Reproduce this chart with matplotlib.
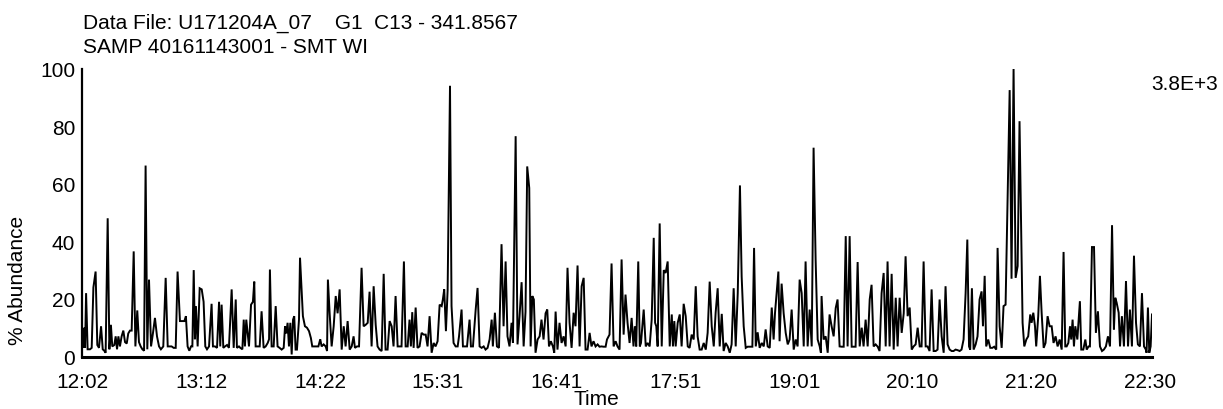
import numpy as np
import matplotlib
matplotlib.use("Agg")
import matplotlib.pyplot as plt

# ---------------- data (retention time in minutes since midnight, % abundance) -------------
t_a = [722.2, 722.8, 723.4, 723.8, 724.4, 725.3, 726.7, 727.7, 728.7, 730.0, 731.0, 732.0, 733.2, 734.2,
       735.1, 735.9, 737.1, 738.1, 739.0, 739.8, 741.0, 741.8, 742.6, 743.4, 744.3, 745.3, 746.3, 747.3,
       748.3, 749.2, 750.2, 751.2, 752.4, 753.4, 754.5, 755.5, 756.5, 757.5, 758.5, 759.4, 760.4, 761.4,
       762.6, 763.7, 764.9, 766.1, 767.3, 768.4, 769.8, 771.2, 772.4, 773.5, 774.7, 775.9, 777.1, 778.2,
       779.6, 781.0, 782.2, 783.1, 784.1, 785.1, 786.1, 786.9, 787.7, 788.4, 789.0, 790.0, 791.2, 792.4,
       793.5, 794.5, 795.5, 796.7, 798.2, 799.0, 800.2, 801.4, 802.6]
v_a = [8, 3, 10, 3, 22, 2.5, 2.5, 3, 24, 29.5, 4, 3, 10.5, 2.5,
       2, 1.3, 48, 2.5, 11, 3.5, 4, 7, 2.5, 7, 3.5, 7, 9, 5,
       4.5, 8, 9, 9, 36.5, 3.5, 16, 5, 3.5, 2.5, 2, 66.3, 2.5, 26.7,
       3.5, 8, 13.4, 7, 3.5, 2.5, 3.5, 27.3, 3.5, 3.5, 3.5, 3, 3, 29.5,
       12.3, 12.3, 12.3, 14, 3.5, 2, 3.5, 3.5, 30, 6, 17.5, 3.5, 23.7, 23.3,
       19, 3.5, 2.5, 3.5, 18.3, 3.5, 3.5, 3, 19]

t_b = [803.3, 804.1, 805.1, 806.1, 807.3, 808.4, 810.0, 811.2, 812.4, 813.1, 814.3, 815.1, 816.3, 817.1,
       817.8, 818.6, 819.4, 820.2, 821.4, 822.5, 823.3, 824.1, 825.3, 826.5, 827.6, 828.8, 830.0, 831.2,
       832.0, 832.5, 833.5, 834.7, 835.9, 837.0, 838.2, 839.4, 840.6, 841.4, 842.1, 842.9, 843.7, 844.5,
       845.3, 846.1, 846.8, 847.6, 848.4, 849.6, 850.2, 851.2, 851.9, 853.1, 854.3, 855.5, 856.6, 857.4,
       858.6, 859.8, 861.0, 862.1, 862.9, 864.1, 865.3, 866.1, 866.6, 867.6, 868.8, 870.0, 871.2, 872.3,
       873.5, 874.7, 875.9, 877.0, 878.2, 879.4, 880.6, 881.7, 882.5, 883.7, 884.9]
v_b = [3.5, 18, 3, 3.5, 4, 3, 23.3, 3, 19.8, 3, 3.5, 3, 2.5, 12.8,
       3.5, 12.8, 8, 3.5, 18, 19, 26, 3.5, 3.5, 3.5, 15.7, 3, 3.5, 4.7,
       6, 30.2, 3.5, 3.5, 17.5, 3.5, 3, 2.4, 3, 10.5, 8, 11.7, 3.5, 11.7,
       0.7, 12.8, 14, 2.4, 2.4, 12.8, 34.3, 22, 14, 10.5, 10, 8.8, 6.4, 3.5,
       3.5, 3.5, 3.5, 6, 3.5, 4.2, 3.5, 1.9, 26.7, 15.2, 3.5, 10.5, 21, 15,
       23.3, 2.4, 10.5, 3.5, 12.3, 2.4, 3.5, 7, 3, 3.5, 3.5]

t_c = [886.4, 887.6, 888.8, 890.0, 891.1, 892.3, 893.5, 894.7, 895.8, 897.0, 898.2, 899.4, 900.5, 901.7,
       902.9, 904.1, 905.2, 906.4, 907.6, 908.8, 909.9, 911.3, 912.3, 913.5, 914.6, 915.4, 916.2, 917.0,
       918.2, 919.3, 920.5, 921.7, 922.9, 924.1, 925.2, 926.4, 927.6, 928.8, 929.9, 931.1, 932.3, 933.5,
       934.2, 935.0, 936.0, 937.0, 938.4, 939.3, 940.5, 941.7, 942.9, 943.7, 945.2, 946.0, 947.2, 948.4,
       949.9, 950.7, 951.9, 953.5, 954.6, 955.8, 957.0, 958.2, 959.3, 960.5, 961.7, 962.9, 963.6, 964.8,
       966.0, 967.2]
v_c = [30.8, 10.5, 11, 11.7, 22.5, 3.5, 24.4, 11, 3.5, 2.4, 1.9, 28.7, 2.4, 2.4,
       12.3, 10.5, 3.5, 21, 3.5, 3.5, 3.5, 33, 3.5, 3.5, 12.8, 3.5, 15.4, 3,
       17, 3, 3.5, 8.2, 7.6, 7.6, 3.5, 14, 1.3, 4.7, 3.5, 5.3, 18, 17.5,
       19.8, 23.3, 8.8, 23, 94, 17.5, 4.7, 3.5, 3.5, 7, 16.3, 3.5, 3.5, 3.5,
       12.8, 3.5, 3.5, 16.3, 23.8, 3.5, 3, 3.5, 2.4, 3, 6, 12.8, 3.5, 15.2,
       3.5, 3]

t_d = [968.7, 969.9, 971.1, 972.2, 973.4, 974.6, 975.4, 977.0, 978.1, 979.3, 980.5, 981.7, 982.8, 983.8,
       985.0, 985.8, 986.8, 987.7, 988.7, 989.9, 991.1, 992.2, 993.4, 994.6, 995.6, 996.6, 997.7, 998.9,
       999.7, 1000.5, 1001.6, 1002.8, 1004.0, 1005.2, 1006.4, 1007.5, 1008.7, 1009.9, 1011.1, 1012.2,
       1013.4, 1014.6, 1015.8, 1017.0, 1018.1, 1019.3, 1020.5, 1021.6, 1022.8, 1024.0, 1025.2, 1026.3,
       1027.5, 1028.7, 1029.9, 1030.7, 1032.2, 1033.4, 1034.6, 1035.8, 1036.9, 1038.1, 1039.3, 1040.5,
       1041.6, 1042.8, 1044.0, 1045.2, 1046.3, 1047.1, 1047.9, 1049.1]
v_d = [39, 10.5, 33, 7, 3.5, 11.7, 4.7, 76.5, 4.2, 14, 25.8, 3.5, 15.5, 66,
       58.5, 3.5, 21, 19.8, 1.3, 5.9, 7, 12.8, 5.9, 15, 16.3, 3.5, 5.3, 3.5,
       1.3, 15.6, 2.4, 11.7, 4.7, 7, 3.5, 30.8, 11.7, 3, 15.2, 10.5,
       31.6, 3.5, 24.4, 27.3, 2.4, 2.4, 8.2, 3.5, 5.3, 3.5, 4.2, 3.4,
       3.5, 3.4, 3.4, 5.9, 7.6, 32.3, 3.5, 5.3, 3.5, 2.4, 33.7, 7.6,
       21.5, 11.7, 4.7, 13.4, 3.5, 10.5, 3.5, 33]

t_e = [1050.0, 1050.7, 1052.3, 1053.5, 1054.6, 1055.8, 1057.0, 1058.2, 1059.0, 1059.7, 1060.5, 1061.7,
       1062.9, 1064.1, 1065.2, 1066.4, 1067.6, 1068.8, 1069.5, 1070.3, 1071.1, 1072.3, 1073.5, 1074.6,
       1075.8, 1077.0, 1078.2, 1079.3, 1080.5, 1081.7, 1082.9, 1084.0, 1085.2, 1086.4, 1087.6, 1088.8,
       1089.9, 1091.1, 1092.3, 1093.5, 1094.6, 1095.8, 1097.0, 1098.2, 1099.3, 1100.5, 1101.7, 1102.9,
       1104.0, 1105.2, 1106.4, 1107.6, 1108.9, 1109.9, 1111.1, 1112.3, 1113.4, 1114.6, 1116.2, 1117.2,
       1118.2, 1119.3, 1120.5, 1121.7, 1122.9, 1124.0, 1125.2, 1126.4, 1127.6, 1128.7, 1129.5, 1131.5]
v_e = [3.5, 4.7, 16.3, 3.5, 4.7, 3.5, 12.8, 41.2, 11.7, 10.5, 3.5, 46.2,
       3.5, 30, 29, 33, 3.5, 14.6, 3.5, 12.3, 3.5, 11.7, 14.6, 3.5,
       18.3, 14, 3.5, 3, 7.6, 5.9, 24.4, 7, 2.4, 2.4, 4.7, 2.4,
       8.2, 26, 10.5, 3.5, 15.2, 23.7, 3.5, 14.8, 1.9, 4.7, 3.5, 1.3,
       4.2, 23.7, 3.5, 22, 59.4, 27.8, 10.5, 3, 3.4, 3.4, 3.4, 37.7,
       3.5, 8.4, 3, 4.7, 3.5, 9.4, 3.5, 3, 17, 5.9, 15, 29.5]

t_f = [1132.2, 1133.4, 1134.6, 1135.8, 1137.0, 1138.1, 1139.3, 1140.5, 1141.7, 1142.8, 1144.0, 1145.2,
       1146.4, 1147.5, 1148.7, 1149.9, 1151.1, 1152.2, 1153.4, 1154.6, 1155.8, 1156.5, 1156.9, 1158.1,
       1159.3, 1160.5, 1161.6, 1162.8, 1164.0, 1165.2, 1166.3, 1167.5, 1168.7, 1169.9, 1171.1, 1172.2,
       1173.4, 1174.6, 1175.8, 1176.9, 1178.1, 1179.3, 1180.5, 1181.6, 1182.8, 1184.0, 1185.2, 1186.3,
       1187.5, 1188.7, 1189.9, 1191.0, 1192.2, 1193.4, 1194.6, 1195.7, 1196.9, 1198.1, 1199.3, 1200.5,
       1201.6, 1202.8, 1204.0, 1205.2, 1206.3, 1207.5, 1208.7, 1209.9, 1211.0, 1212.2, 1213.4, 1214.6]
v_f = [5.3, 25.3, 15, 8.2, 4.2, 5.9, 16.3, 2.4, 5.9, 3.5, 26.7, 22,
       3.5, 33, 3.5, 16.3, 3.5, 72.5, 33.6, 5.9, 3.5, 1.3, 21, 5.9,
       7, 1.3, 14.6, 10.5, 7, 16.8, 19.8, 3.5, 3.4, 3.4, 41.8, 3.5,
       41.8, 3.4, 3.4, 3.4, 32.8, 3.5, 10, 3.5, 12.8, 3.5, 19.8, 24.9,
       3.5, 4.2, 3.4, 1.9, 22, 29, 3.5, 33, 3.5, 28.7, 2.4, 20.4,
       3.5, 20.4, 8.2, 15, 34.8, 14, 17, 2.4, 3.5, 4.2, 10, 3.5]

t_g = [1215.7, 1216.9, 1218.1, 1219.2, 1220.4, 1221.6, 1222.8, 1224.0, 1225.1, 1226.3, 1227.5, 1228.7,
       1229.8, 1231.0, 1232.2, 1233.4, 1234.5, 1235.7, 1236.9, 1238.1, 1239.2, 1240.4, 1241.6, 1242.6,
       1243.6, 1244.3, 1245.3, 1246.3, 1247.5, 1248.6, 1249.8, 1251.0, 1251.8, 1252.8, 1253.7, 1254.9,
       1256.1, 1257.3, 1258.4, 1259.6, 1260.4, 1261.6, 1262.8, 1263.9, 1265.1, 1267.5, 1268.6, 1269.8,
       1271.0, 1272.2, 1273.3, 1275.1, 1276.1, 1277.3, 1278.4, 1279.6, 1280.4, 1281.4, 1282.4, 1283.1,
       1284.3, 1285.3, 1286.3, 1287.5, 1288.6, 1289.8, 1291.0, 1292.2, 1293.3, 1294.5, 1295.7, 1296.9]
v_g = [3.5, 33, 3.5, 3.5, 1.9, 23.3, 1.9, 1.9, 2.4, 19.8, 7, 1.3,
       24.4, 4.2, 2.4, 1.9, 1.9, 2.4, 2.2, 1.9, 2.4, 5.9, 22, 40.6,
       3.5, 2.4, 23.7, 2.4, 4.2, 7, 19.8, 22.6, 10.5, 28, 3.5, 5.9,
       3, 3, 3.4, 2.4, 37.7, 10.5, 3, 17.5, 18, 92.5, 27, 100,
       27.3, 31.4, 81.7, 11.7, 3.5, 5.9, 7, 14.6, 11.7, 15.2, 10.5, 3.5,
       14, 28, 15.2, 3, 4.7, 14, 10.5, 10.5, 4.7, 7, 3.5, 5.9]

t_h = [1298.1, 1299.2, 1300.2, 1301.0, 1302.0, 1303.0, 1303.7, 1304.5, 1305.3, 1306.1, 1307.3, 1308.8,
       1309.6, 1310.8, 1312.0, 1312.8, 1313.9, 1314.7, 1315.9, 1317.1, 1318.2, 1319.4, 1320.6, 1321.8,
       1322.9, 1324.1, 1325.3, 1326.5, 1327.7, 1328.8, 1329.6, 1330.4, 1331.6, 1332.4, 1333.5, 1334.7,
       1335.9, 1337.1, 1338.2, 1339.4, 1340.6, 1341.8, 1342.9, 1344.1, 1345.3, 1346.5, 1347.6, 1348.0,
       1348.8, 1349.6, 1350.4, 1351.2]
v_h = [2.4, 36.3, 3.5, 3.5, 4.7, 10.5, 5.9, 12.8, 3.5, 10.5, 5.9, 19.2,
       2.4, 2.4, 5.9, 2.4, 3.5, 3.5, 38, 38, 8.2, 15.7, 3.5, 1.9,
       2.4, 3.5, 7, 3.5, 45.6, 9.4, 20.4, 18.7, 15.2, 3.5, 14, 3.5,
       26.2, 3.5, 16.3, 3.5, 35, 11.7, 4.2, 3.5, 22, 3.5, 2.4, 1.3,
       17, 1.3, 3.5, 14.6]

x_tick_labels = ["12:02", "13:12", "14:22", "15:31", "16:41", "17:51", "19:01", "20:10", "21:20", "22:30"]
y_ticks = [0, 20, 40, 60, 80, 100]
header_line1 = "Data File: U171204A_07    G1  C13 - 341.8567"
header_line2 = "SAMP 40161143001 - SMT WI"
scale_text = "3.8E+3"

# --------------------------------------------------------------------------------------------
t_all, v_all = [], []
for tt, vv in [(t_a, v_a), (t_b, v_b), (t_c, v_c), (t_d, v_d), (t_e, v_e), (t_f, v_f), (t_g, v_g), (t_h, v_h)]:
    assert len(tt) == len(vv), (len(tt), len(vv), tt[0])
    t_all += tt
    v_all += vv
t_all = np.array(t_all)
v_all = np.array(v_all)

plt.rcParams['font.family'] = ['Liberation Sans', 'DejaVu Sans']
FS = 15

W, H = 1223, 410
fig = plt.figure(figsize=(W / 100, H / 100), dpi=100)
left_px, right_px, top_px, bot_px = 82, 1152, 69.5, 357.5
ax = fig.add_axes([left_px / W, 1 - bot_px / H, (right_px - left_px) / W, (bot_px - top_px) / H])

ax.plot(t_all, v_all, color='black', lw=1.4, solid_joinstyle='miter')

ax.set_xlim(t_all[0] - 0.2, t_all[-1])
ax.set_ylim(0, 100)

def to_min(s):
    h, m = s.split(':')
    return int(h) * 60 + int(m)

ax.set_xticks([to_min(s) for s in x_tick_labels])
ax.set_xticklabels(x_tick_labels, fontsize=FS)
ax.set_yticks(y_ticks)
ax.set_yticklabels([str(y) for y in y_ticks], fontsize=FS)
ax.tick_params(axis='x', length=0, pad=11)
ax.tick_params(axis='y', length=0, pad=5)

for s in ['top', 'right']:
    ax.spines[s].set_visible(False)
ax.spines['left'].set_linewidth(1.6)
ax.spines['bottom'].set_linewidth(2.2)

fig.text(83 / W, 1 - 29 / H, header_line1, fontsize=FS, ha='left', va='baseline')
fig.text(83 / W, 1 - 53 / H, header_line2, fontsize=FS, ha='left', va='baseline')
fig.text(1218 / W, 1 - 90 / H, scale_text, fontsize=FS, ha='right', va='baseline')
fig.text(18 / W, 1 - 280 / H, "% Abundance", fontsize=FS, rotation=90, ha='center', va='center')
fig.text(596 / W, 1 - 400 / H, "Time", fontsize=FS, ha='center', va='center')

fig.savefig('out.png', dpi=100)
